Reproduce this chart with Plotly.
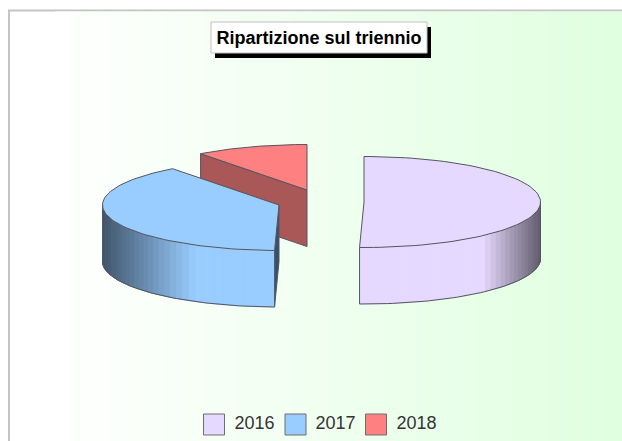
import math
import plotly.graph_objects as go

categories = ["2016", "2017", "2018"]
shares = [50.4, 39.3, 10.3]
title_text = "Ripartizione sul triennio"

top_colors = ["#e6d9ff", "#99ccff", "#ff8080"]
cut_colors = ["#e6d9ff", "#34506e", "#a95757"]
centers = [(364, 202), (279, 205), (307, 190)]
shade_start = [0.67, 0.48, 0.0]
W, H = 622, 441
RX, RY, DEPTH = 176.5, 45.5, 56.5
EDGE = "#555560"


def hex_rgb(c):
    return tuple(int(c[i:i + 2], 16) for i in (1, 3, 5))


def scaled(c, f):
    return "rgb(%d,%d,%d)" % tuple(round(v * f) for v in hex_rgb(c))


def pt(center, deg):
    a = math.radians(deg)
    return center[0] + RX * math.sin(a), center[1] - RY * math.cos(a)


fig = go.Figure()


def poly(pts, fill, line=None, width=1.0):
    fig.add_trace(go.Scatter(
        x=[p[0] for p in pts] + [pts[0][0]], y=[p[1] for p in pts] + [pts[0][1]],
        mode="lines", fill="toself", fillcolor=fill,
        line=dict(color=line or fill, width=width),
        hoverinfo="skip", showlegend=False))


def stroke(pts):
    fig.add_trace(go.Scatter(x=[p[0] for p in pts], y=[p[1] for p in pts], mode="lines",
                             line=dict(color=EDGE, width=1), hoverinfo="skip", showlegend=False))


# slice angles, clockwise from 12 o'clock
angles = []
acc = 0.0
for s in shares:
    angles.append((acc * 3.6, (acc + s) * 3.6))
    acc += s

# painted back to front
for i in (2, 1, 0):
    c = centers[i]
    a0, a1 = angles[i]
    arc = [pt(c, a0 + (a1 - a0) * k / 80) for k in range(81)]
    low = lambda p: (p[0], p[1] + DEPTH)

    if i == 2:
        p = pt(c, a0)
        q = (c[0], c[1])
        poly([p, q, low(q), low(p)], cut_colors[i], EDGE)
    if i == 1:
        p = pt(c, a0)
        q = (c[0], c[1])
        poly([q, p, low(p), low(q)], cut_colors[i], EDGE)
    lo, hi = max(a0, 90), min(a1, 270)
    if lo < hi:
        n = int((hi - lo) / 2.5) + 1
        for k in range(n):
            b0 = lo + (hi - lo) * k / n
            b1 = lo + (hi - lo) * (k + 1) / n
            s = abs(math.sin(math.radians((b0 + b1) / 2)))
            t = max(0.0, (s - shade_start[i]) / (1 - shade_start[i]))
            p0, p1 = pt(c, b0), pt(c, b1)
            poly([p0, p1, low(p1), low(p0)], scaled(top_colors[i], 1 - 0.58 * t))
        lower = [low(pt(c, lo + (hi - lo) * k / 60)) for k in range(61)]
        stroke(lower)
        stroke([pt(c, lo), low(pt(c, lo))])
        stroke([pt(c, hi), low(pt(c, hi))])
    poly([c] + arc, top_colors[i], EDGE)

legend_box_x = [214, 295.5, 376]
legend_text_x = [234.5, 315.5, 396.5]
for i, name in enumerate(categories):
    fig.add_trace(go.Scatter(x=[legend_box_x[i]], y=[424.5], mode="markers", name=name,
                             marker=dict(symbol="square", size=21, color=top_colors[i],
                                         line=dict(color="#6e6e6e", width=1)),
                             hoverinfo="skip", showlegend=False))
    fig.add_trace(go.Scatter(x=[legend_text_x[i]], y=[424.5], mode="text", text=[name],
                             textposition="middle right",
                             textfont=dict(family="Liberation Sans", size=18, color="#333333"),
                             hoverinfo="skip", showlegend=False))

shapes = []
FRAME_L, FRAME_T = 9, 10.5
GRAD_START = 55
STEPS = 31
shapes.append(dict(type="rect", xref="x", yref="y", x0=FRAME_L, x1=W + 5, y0=FRAME_T, y1=H + 5,
                   fillcolor="#ffffff", line=dict(color="#c4c4c4", width=2), layer="below"))
for k in range(STEPS):
    x0 = GRAD_START + (W - GRAD_START) * k / STEPS
    x1 = GRAD_START + (W - GRAD_START) * (k + 1) / STEPS
    v = 255 - k - 1
    shapes.append(dict(type="rect", xref="x", yref="y", x0=x0, x1=x1 + 1, y0=FRAME_T + 1, y1=H,
                       fillcolor="rgb(%d,255,%d)" % (v, v), line=dict(width=0), layer="below"))
shapes.append(dict(type="rect", xref="x", yref="y", x0=215, x1=431, y0=27, y1=58,
                   fillcolor="#000000", line=dict(width=0), layer="below"))
shapes.append(dict(type="rect", xref="x", yref="y", x0=211, x1=427, y0=22, y1=53,
                   fillcolor="#ffffff", line=dict(color="#c0c0c0", width=1), layer="below"))

fig.update_layout(
    width=W, height=H, margin=dict(l=0, r=0, t=0, b=0, pad=0), autosize=False,
    paper_bgcolor="#ffffff", plot_bgcolor="rgba(0,0,0,0)", showlegend=False,
    xaxis=dict(range=[0, W], visible=False, fixedrange=True),
    yaxis=dict(range=[H, 0], visible=False, fixedrange=True),
    shapes=shapes,
    title=dict(text=title_text, x=319 / W, y=1 - 37.5 / H,
               xanchor="center", yanchor="middle", xref="paper", yref="paper",
               font=dict(family="Liberation Sans", size=18, color="#000000", weight="bold")),
)
fig.write_html("out.html", config=dict(displayModeBar=False),
               default_width=f"{W}px", default_height=f"{H}px",
               post_script="document.body.style.margin='0';document.body.style.overflow='hidden';")
